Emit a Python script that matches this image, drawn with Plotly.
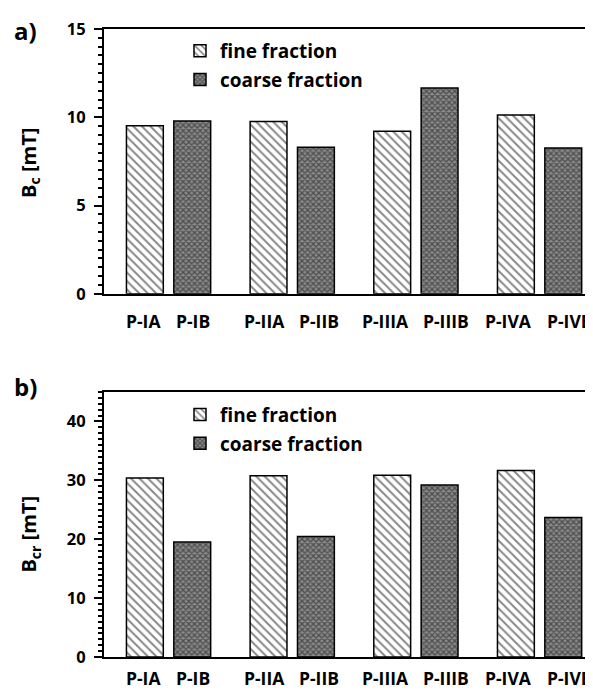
import plotly.graph_objects as go

groups = [0, 1, 2, 3]
labels_fine = ["P-IA", "P-IIA", "P-IIIA", "P-IVA"]
labels_coarse = ["P-IB", "P-IIB", "P-IIIB", "P-IVB"]
bc_fine = [9.52, 9.76, 9.21, 10.13]
bc_coarse = [9.79, 8.30, 11.66, 8.26]
bcr_fine = [30.4, 30.8, 30.85, 31.65]
bcr_coarse = [19.55, 20.45, 29.2, 23.7]

FONT = "Open Sans"
BARGAP, BARGROUPGAP = 0.234, 0.222
SLOT = (1 - BARGAP) / 2            # width of one bar slot in group units
OFF = SLOT / 2                     # bar centre offset from group centre
BW = SLOT * (1 - BARGROUPGAP)      # bar width

fine_pattern = dict(shape="\\", fgcolor="#111111", bgcolor="white", size=6, solidity=0.33)
coarse_pattern = dict(shape="x", fgcolor="#111111", bgcolor="#8a8a8a", size=4, solidity=0.55)

fig = go.Figure()

def add_pair(fine, coarse, xa, ya, leg):
    fig.add_trace(go.Bar(x=groups, y=fine, name="fine fraction", xaxis=xa, yaxis=ya,
                         marker=dict(color="white", pattern=fine_pattern,
                                     line=dict(color="black", width=1.5)),
                         legend=leg, legendgroup=leg + "f"))
    fig.add_trace(go.Bar(x=groups, y=coarse, name="coarse fraction", xaxis=xa, yaxis=ya,
                         marker=dict(color="#555555", pattern=coarse_pattern,
                                     line=dict(color="black", width=1.5)),
                         legend=leg, legendgroup=leg + "c"))

add_pair(bc_fine, bc_coarse, "x", "y", "legend")
add_pair(bcr_fine, bcr_coarse, "x2", "y2", "legend2")

# the page body has an 8px margin: figure is drawn from (8, 8)
PAD = 8
W, H = 593 - PAD, 691 - PAD
L, R, T = 104 - PAD, 0, 29 - PAD
B = H - (657.5 - PAD)
pw = W - L - R
ph = H - T - B

def px2x(px):
    return (px - PAD - L) / pw

def py2y(py):
    return 1 - (py - PAD - T) / ph

xcommon = dict(range=[-0.522, 3.432], showticklabels=False, ticks="",
               showline=True, linecolor="black", linewidth=2, mirror=True,
               showgrid=False, zeroline=False, automargin=False)
ycommon = dict(showline=True, linecolor="black", linewidth=2, mirror=False,
               showgrid=False, zeroline=False, ticks="outside", ticklen=8, tickwidth=2,
               tickcolor="black", ticklabelstandoff=5, automargin=False,
               tickfont=dict(family=FONT, size=16.5, color="black", weight="bold"))

ya_dom = [py2y(294), 1]
yb_dom = [0, py2y(392.3)]

legfont = dict(family=FONT, size=19, color="black", weight="bold")

fig.update_layout(
    width=W, height=H, margin=dict(l=L, r=R, t=T, b=B, autoexpand=False),
    paper_bgcolor="white", plot_bgcolor="white",
    barmode="group", bargap=BARGAP, bargroupgap=BARGROUPGAP,
    xaxis=dict(**xcommon, anchor="y", domain=[0, 1]),
    yaxis=dict(**ycommon, range=[0, 15], domain=ya_dom, anchor="x", tickvals=[0, 5, 10, 15],
               minor=dict(dtick=0.5, ticks="outside", ticklen=4, tickwidth=1.5, tickcolor="black")),
    xaxis2=dict(**xcommon, anchor="y2", domain=[0, 1]),
    yaxis2=dict(**ycommon, range=[0, 45], domain=yb_dom, anchor="x2", tickvals=[0, 10, 20, 30, 40],
                minor=dict(dtick=1, ticks="outside", ticklen=4, tickwidth=1.5, tickcolor="black")),
    legend=dict(x=px2x(180), y=py2y(32), xanchor="left", yanchor="top",
                font=legfont, bgcolor="rgba(0,0,0,0)", tracegroupgap=1, itemwidth=30),
    legend2=dict(x=px2x(180), y=py2y(396), xanchor="left", yanchor="top",
                 font=legfont, bgcolor="rgba(0,0,0,0)", tracegroupgap=1, itemwidth=30),
    font=dict(family=FONT, color="black"),
)

anns = []
# category labels: fine-fraction label right-aligned to its bar, coarse label left-aligned
lblfont = dict(family=FONT, size=17.5, color="black", weight="bold")
for xr, yr, shift in (("x", "y domain", -27), ("x2", "y2 domain", -20.5)):
    for g, lf, lc in zip(groups, labels_fine, labels_coarse):
        anns.append(dict(text=lf, xref=xr, yref=yr, x=g - OFF + BW / 2, y=0,
                         xanchor="right", yanchor="middle", yshift=shift,
                         showarrow=False, font=lblfont))
        anns.append(dict(text=lc, xref=xr, yref=yr, x=g + OFF - BW / 2, y=0,
                         xanchor="left", yanchor="middle", yshift=shift,
                         showarrow=False, font=lblfont))

ann_specs = [
    ("a)", 12, 31, 0, 24),
    ("b)", 12, 387, 0, 24),
    ("B<sub>c</sub> [mT]", 30, 163, -90, 20),
    ("B<sub>cr</sub> [mT]", 30, 535, -90, 20),
]
for text, px, py, ang, size in ann_specs:
    anns.append(dict(text=text, xref="paper", yref="paper",
                     x=px2x(px), y=py2y(py), showarrow=False, textangle=ang,
                     font=dict(family=FONT, size=size, color="black", weight="bold"),
                     xanchor="center" if ang else "left", yanchor="middle"))
fig.update_layout(annotations=anns)

fig.write_html("out.html")
